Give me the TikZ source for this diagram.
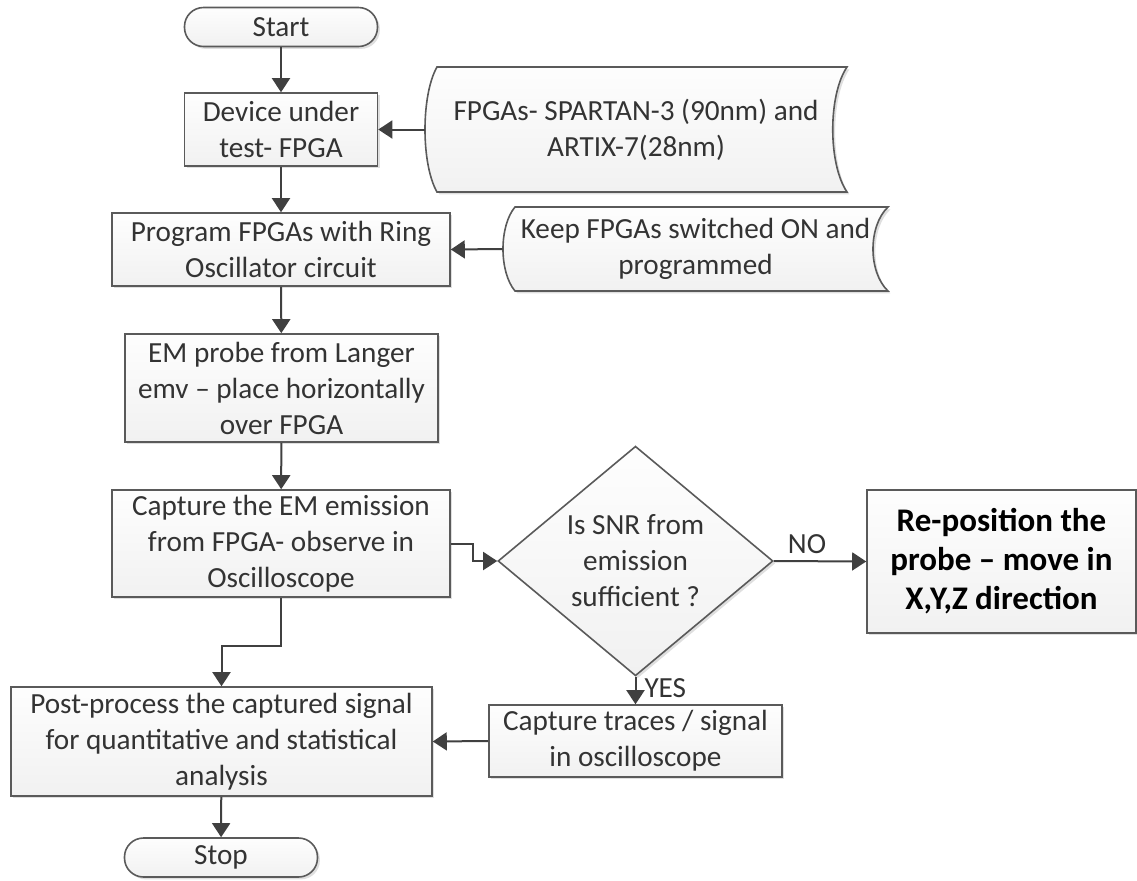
\documentclass[tikz,border=0pt]{standalone}
\usepackage{fontspec}
\setmainfont{Carlito}
\usetikzlibrary{arrows.meta,shapes.geometric,shadows}
\definecolor{linea}{HTML}{5A5A5A}
\definecolor{testo}{HTML}{333333}
\definecolor{freccia}{HTML}{404040}

\begin{document}
\begin{tikzpicture}[x=0.5pt,y=-0.5pt,
	font=\fontsize{14.6}{18}\selectfont, text=testo,
	box/.style={draw=linea, line width=0.8pt, top color=gray!1, bottom color=gray!11,
		drop shadow={shadow xshift=1.2pt, shadow yshift=-1.2pt, opacity=.25},
		align=center, inner sep=0pt},
	terminale/.style={box, rounded corners=9.5pt, minimum width=96.5pt, minimum height=19.5pt},
	dati/.style={box},
	datitesto/.style={align=center, inner sep=0pt},
	rombo/.style={box, diamond, minimum width=137.5pt, minimum height=107.5pt},
	flow/.style={draw=freccia, line width=1pt, -{Triangle[width=9pt,length=7pt]}}]

	\useasboundingbox (0,0) rectangle (1137,880);

	% colonna di sinistra
	\node[terminale] (start) at (281,27) {Start};
	\node[box, minimum width=96.5pt, minimum height=36.5pt] (device) at (281,129.5) {Device under\\test- FPGA};
	\node[box, minimum width=169pt, minimum height=36.5pt] (program) at (281,249.5) {Program FPGAs with Ring\\Oscillator circuit};
	\node[box, minimum width=156.5pt, minimum height=54pt] (probe) at (281.5,388) {EM probe from Langer\\emv -- place horizontally\\over FPGA};
	\node[box, minimum width=169pt, minimum height=53.5pt] (capture) at (281,543.5) {Capture the EM emission\\from FPGA- observe in\\Oscilloscope};
	\node[box, minimum width=210.5pt, minimum height=54.5pt] (post) at (221.5,741.5) {Post-process the captured signal\\for quantitative and statistical\\analysis};
	\node[terminale] (stop) at (221,857.5) {Stop};

	% dati in ingresso
	\path[dati] (437,67) .. controls (421,95) and (421,164) .. (437,192) -- (847,192)
		.. controls (828,164) and (828,95) .. (847,67) -- cycle;
	\node[datitesto, minimum width=211pt, minimum height=62.5pt] (spec) at (636,129.5) {FPGAs- SPARTAN-3 (90nm) and\\ARTIX-7(28nm)};
	\path[dati] (515,207) .. controls (499,226) and (499,272) .. (515,291) -- (888,291)
		.. controls (868,272) and (868,226) .. (888,207) -- cycle;
	\node[datitesto, minimum width=192.5pt, minimum height=42pt] (keep) at (695.5,249) {Keep FPGAs switched ON and\\programmed};

	% decisione
	\node[rombo] (snr) at (635.5,561) {Is SNR from\\emission\\sufficient ?};
	\node[box, minimum width=134.5pt, minimum height=71.5pt, text=black,
		font=\fontsize{16.5}{19.5}\selectfont\bfseries] (repos) at (1001.5,561.5) {Re-position the\\probe -- move in\\X,Y,Z direction};
	\node[box, minimum width=146.5pt, minimum height=36pt] (traces) at (635.5,741) {Capture traces / signal\\in oscilloscope};

	% frecce
	\draw[flow] (start) -- (device);
	\draw[flow] (spec.west) -- (device.east);
	\draw[flow] (device) -- (program);
	\draw[flow] (keep.west) -- (program.east);
	\draw[flow] (program) -- (probe);
	\draw[flow] (probe) -- (capture);
	\draw[flow] (capture.east) -- ++(22,0) |- (snr.west);
	\draw[flow] (snr.east) -- node[pos=.36, above, inner sep=3pt] {NO} (repos.west);
	\draw[flow] (snr.south) -- node[pos=.4, right, inner sep=4pt] {YES} (traces.north);
	\draw[flow] (traces.west) -- (post.east);
	\draw[flow] (capture.south) -- ++(0,48) -| (post.north);
	\draw[flow] (post) -- (stop);

\end{tikzpicture}
\end{document}
